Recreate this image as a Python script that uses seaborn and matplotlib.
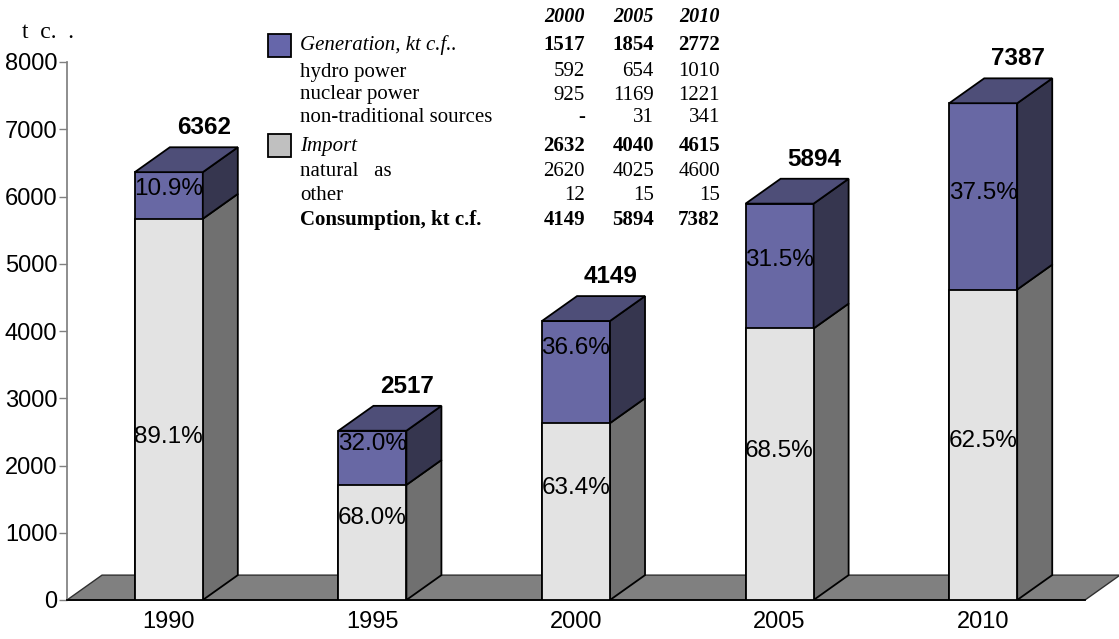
import numpy as np
import matplotlib
matplotlib.use("Agg")
import matplotlib.pyplot as plt
import seaborn as sns
from matplotlib.patches import Polygon, Rectangle

# chart data
years = ["1990", "1995", "2000", "2005", "2010"]
totals = [6362, 2517, 4149, 5894, 7387]
gen_pct = [10.9, 32.0, 36.6, 31.5, 37.5]
imp_pct = [89.1, 68.0, 63.4, 68.5, 62.5]

# table data
tbl_years = ["2000", "2005", "2010"]
tbl_rows = ["Generation, kt c.f..", "hydro power", "nuclear power", "non-traditional sources",
            "Import", "natural   as", "other", "Consumption, kt c.f."]
tbl_vals = [
    ["1517", "1854", "2772"],
    ["592", "654", "1010"],
    ["925", "1169", "1221"],
    ["-", "31", "341"],
    ["2632", "4040", "4615"],
    ["2620", "4025", "4600"],
    ["12", "15", "15"],
    ["4149", "5894", "7382"],
]

sns.set_theme(style="white")
plt.rcParams["font.family"] = ["Liberation Sans", "DejaVu Sans"]
plt.rcParams["text.color"] = "black"
plt.rcParams["axes.labelcolor"] = "black"
plt.rcParams["xtick.color"] = "black"
plt.rcParams["ytick.color"] = "black"

W, H = 1119, 639
fig = plt.figure(figsize=(W / 100, H / 100), dpi=100)
ax = fig.add_axes([67 / W, 1 - 600 / H, (1085 - 67) / W, (600 - 62) / H])

totals = np.array(totals, dtype=float)
imports = totals * np.array(imp_pct) / 100
gens = totals - imports

bw = 0.334
dx = 0.172
dy = 370

purple = "#6868A4"
purple_top = "#4E4E78"
purple_side = "#36364F"
grey = "#E3E3E3"
grey_side = "#707070"

# floor
floor = Polygon([(-0.5, 0), (4.5, 0), (4.5 + dx, dy), (-0.5 + dx, dy)], closed=True,
                facecolor="#808080", edgecolor="#303030", lw=1, zorder=1, clip_on=False)
ax.add_patch(floor)

sns.barplot(x=years, y=totals, order=years, color=purple, saturation=1, width=bw,
            edgecolor="black", linewidth=1.3, ax=ax, zorder=3)
sns.barplot(x=years, y=imports, order=years, color=grey, saturation=1, width=bw,
            edgecolor="black", linewidth=1.3, ax=ax, zorder=4)

for i in range(len(years)):
    xl, xr = i - bw / 2, i + bw / 2
    t, m = totals[i], imports[i]
    ax.add_patch(Polygon([(xr, 0), (xr + dx, dy), (xr + dx, m + dy), (xr, m)],
                         facecolor=grey_side, edgecolor="black", lw=1.3, zorder=3))
    ax.add_patch(Polygon([(xr, m), (xr + dx, m + dy), (xr + dx, t + dy), (xr, t)],
                         facecolor=purple_side, edgecolor="black", lw=1.3, zorder=3))
    ax.add_patch(Polygon([(xl, t), (xr, t), (xr + dx, t + dy), (xl + dx, t + dy)],
                         facecolor=purple_top, edgecolor="black", lw=1.3, zorder=3))
    ax.text(i + dx, t + dy + 120, f"{int(t)}", ha="center", va="bottom",
            fontsize=17.5, fontweight="bold", zorder=6)

imp_nudge = [-410, 363, 350, 197, 56]
gen_nudge = [96, 206, 357, 90, 50]
for i in range(len(years)):
    ax.text(i, imports[i] / 2 + imp_nudge[i], f"{imp_pct[i]:.1f}%", ha="center",
            va="center", fontsize=17.5, zorder=6)
    ax.text(i, imports[i] + gens[i] / 2 + gen_nudge[i], f"{gen_pct[i]:.1f}%", ha="center",
            va="center", fontsize=17.5, zorder=6)

ax.set_xlim(-0.5, 4.5)
ax.set_ylim(0, 8000)
ax.set_yticks(np.arange(0, 8001, 1000))
ax.set_xticks(range(len(years)))
ax.set_xticklabels(years)
ax.set_xticks(np.arange(-0.5, 4.6, 1), minor=True)
ax.tick_params(axis="x", which="major", length=0, labelsize=17, pad=8)
ax.tick_params(axis="x", which="minor", length=8, width=1, color="black", direction="out")
ax.tick_params(axis="y", length=6, width=1, color="#808080", labelcolor="black",
               direction="out", labelsize=17, left=True, pad=1)
ax.set_xlabel("")
ax.set_ylabel("")
for s in ["top", "right"]:
    ax.spines[s].set_visible(False)
ax.spines["left"].set_color("#808080")
ax.spines["bottom"].set_color("black")
ax.spines["bottom"].set_linewidth(1.3)
ax.set_facecolor("none")

serif = ["Liberation Serif", "DejaVu Serif"]
fig.text(22 / W, 1 - 33 / H, "t  c.  .", family=serif, fontsize=17, va="center", ha="left")

# table
col_r = [585, 654, 720]
row_y = [45, 72, 95, 118, 146, 172, 195, 220]
for j, yr in enumerate(tbl_years):
    fig.text(col_r[j] / W, 1 - 17 / H, yr, family=serif, fontsize=14.5, fontweight="bold",
             fontstyle="italic", ha="right", va="center")
for r, label in enumerate(tbl_rows):
    y = 1 - row_y[r] / H
    bold_vals = r in (0, 4, 7)
    style = "italic" if r in (0, 4) else "normal"
    weight = "bold" if r == 7 else "normal"
    fig.text(300 / W, y, label, family=serif, fontsize=15, fontstyle=style,
             fontweight=weight, ha="left", va="center")
    for j in range(3):
        fig.text(col_r[j] / W, y, tbl_vals[r][j], family=serif, fontsize=15,
                 fontweight="bold" if bold_vals else "normal", ha="right", va="center")

fig.patches.append(Rectangle((268 / W, 1 - 57 / H), 23 / W, 23 / H, transform=fig.transFigure,
                             facecolor="#6666AA", edgecolor="black", lw=1.3))
fig.patches.append(Rectangle((268 / W, 1 - 157 / H), 23 / W, 23 / H, transform=fig.transFigure,
                             facecolor="#C0C0C0", edgecolor="black", lw=1.3))

fig.savefig("out.png", dpi=100)
